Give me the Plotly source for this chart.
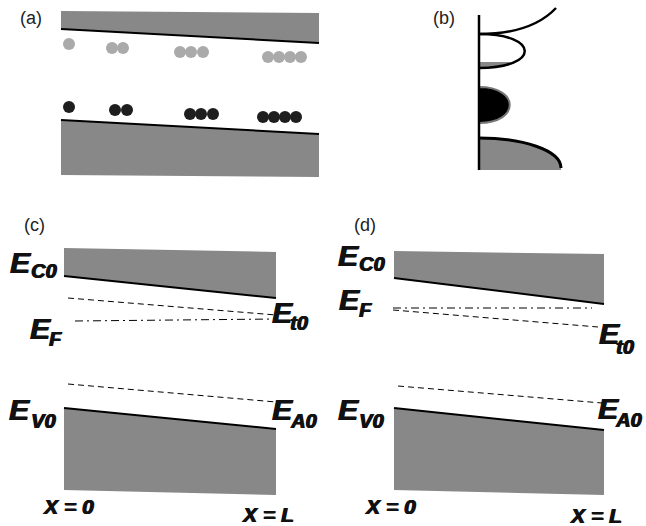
import plotly.graph_objects as go

# ---------- data (diagram coordinates, pixel-like units, y downward) ----------
# panel (a)
a_x = [61, 319]
a_cb_top = [11, 13]
a_cb_edge = [29, 43]
a_vb_edge = [120, 134]
a_vb_bottom = [175, 177]
a_gray_x = [69, 112, 123, 180, 191, 203, 268, 279, 290, 301]
a_gray_y = [44, 48, 48, 52, 52, 52, 57, 57, 57, 57]
a_black_x = [69, 115, 127, 190, 201, 213, 263, 274, 285, 296]
a_black_y = [107, 110, 110, 114, 114, 114, 117, 117, 117, 117]

# panel (c)
c_x = [64, 276]
c_cb_top = [248, 252]
c_cb_edge = [276, 298]
c_et_x = [68, 276]
c_et = [298, 315]
c_ef_x = [75, 276]
c_ef = [321, 319]
c_ea_x = [68, 276]
c_ea = [384, 402]
c_vb_edge = [408, 429]
c_vb_bottom = [490, 495]

# panel (d)
d_x = [394, 604]
d_cb_top = [251, 254]
d_cb_edge = [278, 304]
d_ef_x = [393, 592]
d_ef = [308, 308]
d_et_x = [393, 598]
d_et = [310, 327]
d_ea_x = [398, 602]
d_ea = [386, 403]
d_vb_edge = [408, 430]
d_vb_bottom = [490, 495]

# energy labels: subscript, E position (left x, centre y), subscript position
e_labels = [
    ("C0", 9, 262, 30, 271),
    ("F", 29, 328, 48, 339),
    ("t0", 271, 312, 289, 323),
    ("V0", 8, 409, 30, 421),
    ("A0", 271, 409, 289, 421),
    ("C0", 337, 255, 358, 264),
    ("F", 338, 299, 358, 310),
    ("t0", 598, 333, 615, 347),
    ("V0", 337, 409, 358, 421),
    ("A0", 597, 408, 614, 420),
]
x_labels = [("X = 0", 42, 506), ("X = L", 241, 514), ("X = 0", 364, 506), ("X = L", 569, 515)]
panel_labels = [("(a)", 18, 18), ("(b)", 431, 18), ("(c)", 22, 225), ("(d)", 352, 225)]

BAND = "#888888"
fig = go.Figure()


def band(xs, top, bottom, edge_top=False, edge_bottom=False):
    px = [xs[0], xs[1], xs[1], xs[0], xs[0]]
    py = [top[0], top[1], bottom[1], bottom[0], top[0]]
    fig.add_trace(go.Scatter(x=px, y=py, fill="toself", fillcolor=BAND,
                             mode="none", hoverinfo="skip", showlegend=False))
    if edge_top:
        fig.add_trace(go.Scatter(x=xs, y=top, mode="lines", line=dict(color="black", width=2),
                                 hoverinfo="skip", showlegend=False))
    if edge_bottom:
        fig.add_trace(go.Scatter(x=xs, y=bottom, mode="lines", line=dict(color="black", width=2),
                                 hoverinfo="skip", showlegend=False))


def level(xs, ys, dash):
    fig.add_trace(go.Scatter(x=xs, y=ys, mode="lines",
                             line=dict(color="black", width=1, dash=dash),
                             hoverinfo="skip", showlegend=False))


# (a)
band(a_x, a_cb_top, a_cb_edge, edge_bottom=True)
band(a_x, a_vb_edge, a_vb_bottom, edge_top=True)
fig.add_trace(go.Scatter(x=a_gray_x, y=a_gray_y, mode="markers",
                         marker=dict(size=12, color="#aaaaaa", line=dict(width=0)),
                         hoverinfo="skip", showlegend=False))
fig.add_trace(go.Scatter(x=a_black_x, y=a_black_y, mode="markers",
                         marker=dict(size=12, color="#1e1e1e", line=dict(width=0)),
                         hoverinfo="skip", showlegend=False))

# (c)
band(c_x, c_cb_top, c_cb_edge, edge_bottom=True)
band(c_x, c_vb_edge, c_vb_bottom, edge_top=True)
level(c_et_x, c_et, "6px,4px")
level(c_ef_x, c_ef, "8px,4px,2px,4px")
level(c_ea_x, c_ea, "6px,4px")

# (d)
band(d_x, d_cb_top, d_cb_edge, edge_bottom=True)
band(d_x, d_vb_edge, d_vb_bottom, edge_top=True)
level(d_ef_x, d_ef, "8px,4px,2px,4px")
level(d_et_x, d_et, "6px,4px")
level(d_ea_x, d_ea, "6px,4px")

# (b) density-of-states sketch
shapes = [
    dict(type="path", path="M479,138 C522,138 561,150 561,168 L561,170 L479,170 Z",
         fillcolor=BAND, line=dict(width=0)),
    dict(type="path", path="M479,138 C522,138 561,150 561,168",
         line=dict(color="black", width=3)),
    dict(type="path", path="M479,87 C520,87 520,123 479,123 Z",
         fillcolor="black", line=dict(color="#777777", width=2)),
    dict(type="path", path="M479,62 L516,62 C508,67 495,68 479,68 Z",
         fillcolor=BAND, line=dict(width=0)),
    dict(type="path", path="M479,34 C540,34 540,68 479,68",
         line=dict(color="black", width=2.5)),
    dict(type="path", path="M479,34 C515,34 540,25 556,8",
         line=dict(color="black", width=2.5)),
    dict(type="line", x0=479, x1=479, y0=15, y1=170,
         line=dict(color="black", width=2.5)),
]

ann = []
PF = dict(family="Liberation Sans, Arial, sans-serif", size=18, color="#222222")
for t, x, y in panel_labels:
    ann.append(dict(text=t, x=x, y=y, xref="x", yref="y", xanchor="left", yanchor="middle",
                    showarrow=False, font=PF))

HEAVY = "0.8px 0px 0px #111111, -0.4px 0px 0px #111111"
EF = dict(family="Liberation Sans, Arial, sans-serif", size=30, color="#111111",
          weight="bold", style="italic", shadow=HEAVY)
SF = dict(family="Liberation Sans, Arial, sans-serif", size=20, color="#111111",
          weight="bold", style="italic", shadow=HEAVY)
for sub, ex, ey, sx, sy in e_labels:
    ann.append(dict(text="E", x=ex, y=ey, xref="x", yref="y", xanchor="left", yanchor="middle",
                    showarrow=False, font=EF, borderpad=0))
    ann.append(dict(text=sub, x=sx, y=sy, xref="x", yref="y", xanchor="left", yanchor="middle",
                    showarrow=False, font=SF, borderpad=0))

XF = dict(family="Liberation Sans, Arial, sans-serif", size=21, color="#111111",
          weight="bold", style="italic", shadow=HEAVY)
for t, x, y in x_labels:
    ann.append(dict(text=t, x=x, y=y, xref="x", yref="y", borderpad=0,
                    xanchor="left", yanchor="middle", showarrow=False, font=XF))

fig.update_layout(
    width=646, height=526,
    margin=dict(l=0, r=0, t=0, b=0),
    paper_bgcolor="white", plot_bgcolor="white",
    xaxis=dict(range=[0, 646], visible=False, fixedrange=True),
    yaxis=dict(range=[526, 0], visible=False, fixedrange=True),
    shapes=shapes, annotations=ann, showlegend=False,
)
# remove the default page margin so the 646x526 figure fills the window exactly
fig.write_html("out.html", config={"displayModeBar": False},
               post_script="document.body.style.margin='0px';"
                           "document.documentElement.style.overflow='hidden';")
